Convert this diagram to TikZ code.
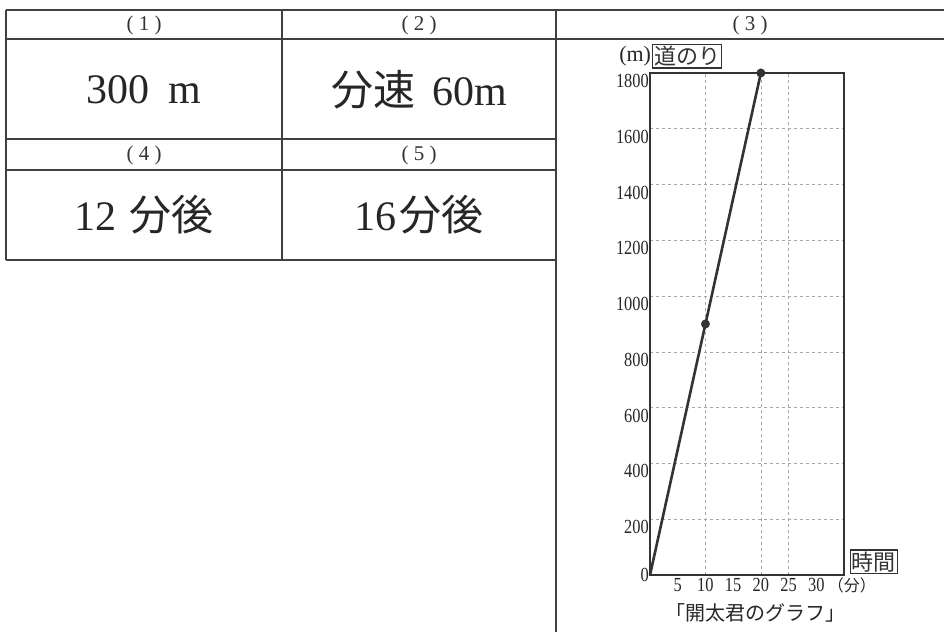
\documentclass[tikz,border=0pt]{standalone}
\usepackage{fontspec}
\setmainfont{Liberation Serif}
\newfontfamily\jp{Noto Sans CJK JP}
\newfontfamily\tickfont[FakeStretch=0.82]{Liberation Serif}
\usetikzlibrary{positioning}

\newcommand{\headnum}[1]{(\hspace{0.25em}#1\hspace{0.25em})}

\tikzset{
  rule/.style={line width=1.3pt, black!75},
  head/.style={font=\fontsize{21}{22}\selectfont, text=black!80},
  answer/.style={font=\fontsize{42}{44}\selectfont, text=black!85},
  tick/.style={font=\tickfont\fontsize{20}{20}\selectfont, inner sep=1pt, text=black!85},
  boxlabel/.style={draw, line width=1.2pt, black!80, inner sep=1.5pt, font=\jp\fontsize{22}{23}\selectfont},
  dot/.style={circle, fill=black!80, inner sep=0pt, minimum size=9pt},
  gridline/.style={black!35, dashed, line width=0.6pt}
}

\begin{document}
\begin{tikzpicture}[x=1pt, y=-1pt]
\useasboundingbox (0,0) rectangle (944,632);

% Draw the answer table
\draw[rule] (6,10) -- (944,10);
\draw[rule] (6,39) -- (944,39);
\draw[rule] (6,139) -- (556,139);
\draw[rule] (6,170) -- (556,170);
\draw[rule] (6,260) -- (556,260);
\draw[rule] (6,10) -- (6,260);
\draw[rule] (282,10) -- (282,260);
\draw[rule] (556,10) -- (556,632);

% Headers of the cells
\node[head] (h1) at (144,25) {\headnum{1}};
\node[head] (h2) at (419,25) {\headnum{2}};
\node[head] (h3) at (750,25) {\headnum{3}};
\node[head] (h4) at (144,155) {\headnum{4}};
\node[head] (h5) at (419,155) {\headnum{5}};

% Answers in the cells
\node[answer] (a1) at (144,90) {300\hspace{0.45em}m};
\node[answer] (a2) at (419,90) {{\jp 分速}\hspace{0.4em}60m};
\node[answer] (a4) at (144,215) {12\hspace{0.3em}{\jp 分後}};
\node[answer] (a5) at (419,215) {16\hspace{0.05em}{\jp 分後}};

% The graph of distance against time
\begin{scope}[shift={(650,575)}, x=5.543pt, y=0.2789pt]
  \foreach \t in {10,20,25}
    \draw[gridline] (\t,0) -- (\t,1800);
  \foreach \m in {200,400,...,1600}
    \draw[gridline] (0,\m) -- (35,\m);
  \draw[line width=1.6pt, black!80] (0,0) rectangle (35,1800);

  % Labels on the axes
  \foreach \m in {200,400,...,1800}
    \node[tick, anchor=north east] (y\m) at (0,\m) {\m};
  \node[tick, anchor=east] (y0) at (0,0) {0};
  \foreach \t in {5,10,...,30}
    \node[tick, anchor=north, yshift=-2pt] (x\t) at (\t,0) {\t};
  \node[tick, right=1pt of x30, font=\jp\fontsize{16}{18}\selectfont] (xunit) {（分）};
  \node[boxlabel, anchor=south west] (ylab) at (0.4,1816) {道のり};
  \node[tick, left=0pt of ylab, font=\fontsize{22}{22}\selectfont] (yunit) {(m)};
  \node[boxlabel, anchor=south west] (xlab) at (36,4) {時間};

  % Points of the walk and the line through them
  \coordinate (p0) at (0,0);
  \node[dot] (p1) at (10,900) {};
  \node[dot] (p2) at (20,1800) {};
  \draw[line width=2.6pt, black!80] (p0) -- (p1.center) -- (p2.center);

  \node[font=\jp\fontsize{20}{22}\selectfont, text=black!85] (cap) at (19,-137) {「開太君のグラフ」};
\end{scope}

\end{tikzpicture}
\end{document}
